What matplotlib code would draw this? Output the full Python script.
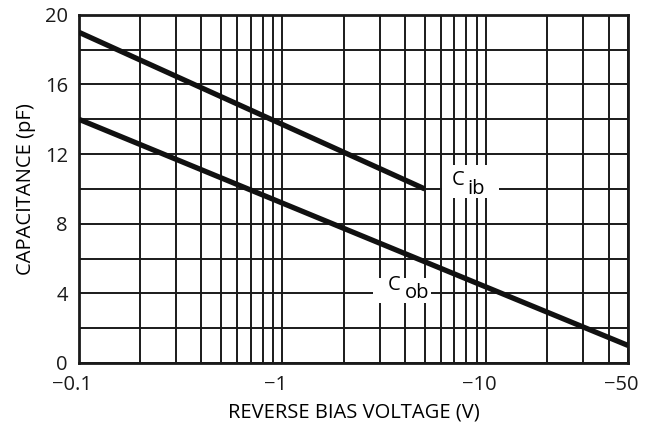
import numpy as np
import matplotlib.pyplot as plt
import matplotlib.transforms as mtransforms
from matplotlib.ticker import FixedLocator, NullFormatter, MultipleLocator

plt.rcParams['font.family'] = ['Open Sans', 'DejaVu Sans']

# reverse bias voltage (magnitude, V) and capacitance (pF)
cib_v = [0.1, 5.0]
cib_c = [19.0, 10.0]
cob_v = [0.1, 50.0]
cob_c = [14.0, 1.0]

x_ticks = [0.1, 1, 10, 50]
x_labels = ['\u22120.1', '\u22121', '\u221210', '\u221250']
y_ticks = [0, 4, 8, 12, 16, 20]

minor_x = [k * 10.0 ** e for e in (-1, 0, 1) for k in range(2, 10) if k * 10.0 ** e <= 50]

FS = 14.5

fig = plt.figure(figsize=(6.47, 4.25), dpi=100)
ax = fig.add_axes([0.122, 0.146, 0.849, 0.819])

ax.set_xscale('log')
ax.set_xlim(0.1, 50)
ax.set_ylim(0, 20)

ax.xaxis.set_major_locator(FixedLocator(x_ticks))
ax.set_xticklabels(x_labels)
ax.xaxis.set_minor_locator(FixedLocator(minor_x))
ax.xaxis.set_minor_formatter(NullFormatter())
ax.set_yticks(y_ticks)
ax.yaxis.set_minor_locator(MultipleLocator(2))

ax.grid(which='both', color='#1a1a1a', linewidth=1.4, zorder=1)
ax.set_axisbelow(True)
ax.tick_params(which='both', length=0, labelsize=FS, colors='#1a1a1a')
ax.tick_params(axis='x', pad=9)
ax.tick_params(axis='y', pad=8)
for s in ax.spines.values():
    s.set_linewidth(2)
    s.set_color('#1a1a1a')

# the minus signs hang a little to the left in the original
shift = mtransforms.ScaledTranslation(-7 / 100, 0, fig.dpi_scale_trans)
for lbl in ax.get_xticklabels():
    lbl.set_transform(lbl.get_transform() + shift)

ax.plot(cib_v, cib_c, color='#111111', linewidth=3.8, solid_capstyle='butt', zorder=4)
ax.plot(cob_v, cob_c, color='#111111', linewidth=3.8, solid_capstyle='butt', zorder=4)

# white patches behind curve labels
ax.fill_between([6.1, 11.6], 9.5, 11.4, color='white', linewidth=0, zorder=2)
ax.fill_between([2.77, 5.36], 3.45, 4.9, color='white', linewidth=0, zorder=2)
ax.text(7.3, 10.5, 'C', fontsize=FS, ha='center', va='center', zorder=5)
ax.text(8.9, 10.0, 'ib', fontsize=FS, ha='center', va='center', zorder=5)
ax.text(3.55, 4.5, 'C', fontsize=FS, ha='center', va='center', zorder=5)
ax.text(4.6, 4.0, 'ob', fontsize=FS, ha='center', va='center', zorder=5)

ax.set_xlabel('REVERSE BIAS VOLTAGE (V)', fontsize=FS, labelpad=5)
ax.set_ylabel('CAPACITANCE (pF)', fontsize=FS, labelpad=6)

fig.savefig('out.png', dpi=100)
